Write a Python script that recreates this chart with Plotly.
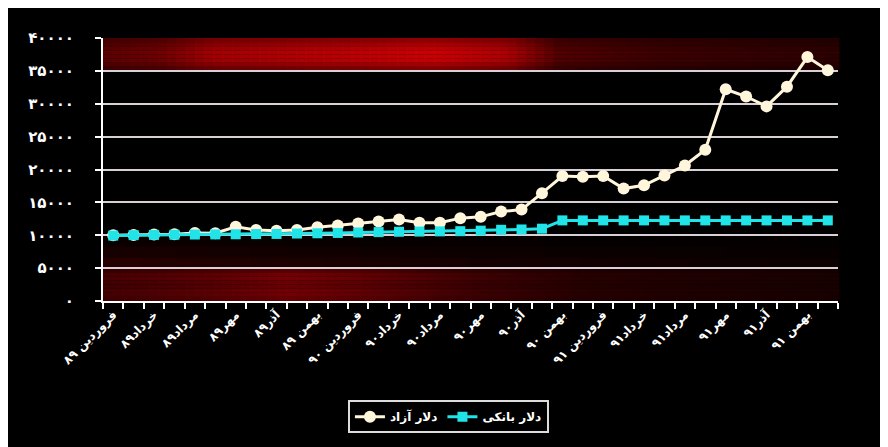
import numpy as np
import plotly.graph_objects as go

# ---------------- data ----------------
month_index = list(range(36))
tick_positions = [0, 2, 4, 6, 8, 10, 12, 14, 16, 18, 20, 22, 24, 26, 28, 30, 32, 34]
tick_labels = ["فروردین ۸۹", "خرداد۸۹", "مرداد۸۹", "مهر۸۹", "آذر۸۹", "بهمن ۸۹",
               "فروردین ۹۰", "خرداد۹۰", "مرداد۹۰", "مهر۹۰", "آذر۹۰", "بهمن ۹۰",
               "فروردین ۹۱", "خرداد۹۱", "مرداد۹۱", "مهر۹۱", "آذر۹۱", "بهمن ۹۱"]
free_dollar = [10000, 10050, 10100, 10150, 10350, 10300, 11300, 10800, 10700, 10800,
               11200, 11500, 11800, 12100, 12400, 11900, 11900, 12600, 12800, 13600,
               13900, 16400, 19000, 18900, 19000, 17100, 17600, 19100, 20600, 23000,
               32200, 31100, 29600, 32600, 37100, 35100]
bank_dollar = [9950, 10020, 10060, 10080, 10110, 10130, 10150, 10180, 10200, 10260,
               10300, 10350, 10420, 10480, 10530, 10560, 10590, 10620, 10700, 10830,
               10880, 11000, 12260, 12260, 12260, 12260, 12260, 12260, 12260, 12260,
               12260, 12260, 12260, 12260, 12260, 12260]
series_names = ["دلار آزاد", "دلار بانکی"]
y_tick_vals = [0, 5000, 10000, 15000, 20000, 25000, 30000, 35000, 40000]
y_tick_labels = ["۰", "۵۰۰۰", "۱۰۰۰۰", "۱۵۰۰۰", "۲۰۰۰۰", "۲۵۰۰۰", "۳۰۰۰۰", "۳۵۰۰۰", "۴۰۰۰۰"]

# ---------------- style ----------------
FONT = "DejaVu Sans"
WHITE_LINE = "#FFF6DC"
CYAN = "#20E4E8"

fig = go.Figure()
fig.add_trace(go.Scatter(
    x=month_index, y=free_dollar, name=series_names[0], mode="lines+markers",
    line=dict(color=WHITE_LINE, width=3),
    marker=dict(symbol="circle", size=12, color=WHITE_LINE),
))
fig.add_trace(go.Scatter(
    x=month_index, y=bank_dollar, name=series_names[1], mode="lines+markers",
    line=dict(color=CYAN, width=3),
    marker=dict(symbol="square", size=10, color=CYAN),
))

# background gradient bands (decoration)
def band_shapes(y0, y1, xp, xi, yp, yi, rgb, nx=80, ny=8):
    shapes = []
    for i in range(nx):
        fx = (i + 0.5) / nx
        ix = float(np.interp(fx, xp, xi))
        for j in range(ny):
            fy = (j + 0.5) / ny
            iy = float(np.interp(fy, yp, yi))
            k = ix * iy
            col = "rgb(%d,%d,%d)" % tuple(int(c * k) for c in rgb)
            shapes.append(dict(
                type="rect", xref="x domain", yref="y", layer="below",
                x0=i / nx, x1=(i + 1) / nx + 0.002,
                y0=y0 + (y1 - y0) * j / ny, y1=y0 + (y1 - y0) * (j + 1) / ny + 5,
                fillcolor=col, line=dict(width=0)))
    return shapes

shapes = []
shapes += band_shapes(35000, 40000,
                      [0, 0.08, 0.15, 0.3, 0.45, 0.55, 0.62, 0.75, 1.0],
                      [0.45, 0.55, 0.8, 0.9, 1.0, 0.85, 0.4, 0.3, 0.22],
                      [0, 0.3, 0.6, 1.0], [0.55, 0.95, 1.0, 0.65],
                      (205, 0, 5))
shapes += band_shapes(0, 5000,
                      [0, 0.15, 0.25, 0.35, 0.5, 0.65, 0.8, 1.0],
                      [0.6, 0.8, 1.0, 0.85, 0.55, 0.35, 0.28, 0.22],
                      [0, 0.25, 0.5, 0.75, 1.0], [0.75, 0.95, 0.8, 1.0, 0.6],
                      (125, 0, 5))
shapes += band_shapes(5000, 10000,
                      [0, 0.4, 1.0], [1.0, 0.6, 0.3],
                      [0, 0.5, 1.0], [0.8, 0.4, 0.1],
                      (60, 0, 0), nx=20, ny=3)

# page has an 8px body margin; margins below place the plot area where the reference has it
fig.update_layout(
    width=888, height=447,
    margin=dict(l=95, r=58, t=30, b=154),
    paper_bgcolor="black", plot_bgcolor="black",
    font=dict(family=FONT, color="white"),
    showlegend=True,
    legend=dict(orientation="h", x=0.47, y=-0.44, xanchor="center", yanchor="middle",
                bgcolor="black", bordercolor="#dddddd", borderwidth=2,
                font=dict(family=FONT, size=12, color="white", weight="bold"),
                itemwidth=30, tracegroupgap=0),
    shapes=shapes,
    xaxis=dict(range=[-0.5, 35.5], tickmode="array", tickvals=tick_positions,
               ticktext=tick_labels, tickangle=-45, ticks="", showgrid=False,
               zeroline=False, showline=True, linecolor="white", linewidth=2,
               tickfont=dict(family=FONT, size=12, color="white", weight="bold"),
               minor=dict(tickmode="array", tickvals=[k - 0.5 for k in range(37)],
                          ticks="outside", ticklen=6, tickwidth=2, tickcolor="white",
                          showgrid=False)),
    yaxis=dict(range=[0, 40000], tickmode="array", tickvals=y_tick_vals,
               ticktext=y_tick_labels, ticks="outside", ticklen=6, tickwidth=2,
               tickcolor="white", showline=True, linecolor="white", linewidth=2,
               showgrid=True, gridcolor="#d9cfd6", gridwidth=2, zeroline=False,
               ticklabelstandoff=18,
               tickfont=dict(family=FONT, size=15, color="white", weight="bold")),
)

fig.write_html("out.html", config={"displayModeBar": False})
